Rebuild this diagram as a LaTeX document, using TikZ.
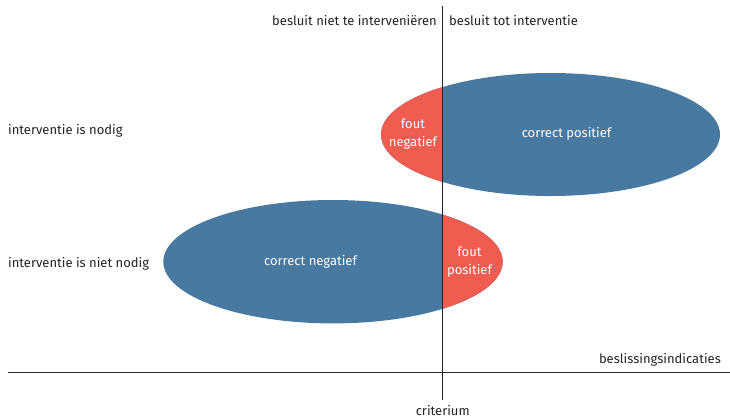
\documentclass[tikz,border=0pt]{standalone}
\usepackage{fontspec}
\setmainfont{Fira Sans}
\definecolor{cblue}{RGB}{72,121,161}
\definecolor{cred}{RGB}{240,92,80}
\definecolor{ctext}{RGB}{35,35,35}
\begin{document}
\begin{tikzpicture}[x=1pt,y=-1pt,
  lbl/.style={text=ctext,font=\fontsize{13}{15}\selectfont,inner sep=0pt},
  inl/.style={text=white,font=\fontsize{13}{17.5}\selectfont,inner sep=0pt,align=center},
  axis/.style={draw=black!85,line width=0.9pt}]
\useasboundingbox (0,0) rectangle (730,418);
% top ellipse
\fill[cblue] (550.5,134.5) ellipse [x radius=169.5, y radius=61.5];
\begin{scope}
\clip (0,0) rectangle (442.7,418);
\fill[cred] (550.5,134.5) ellipse [x radius=169.5, y radius=61.5];
\end{scope}
% bottom ellipse
\fill[cblue] (333,261.7) ellipse [x radius=169.7, y radius=61.7];
\begin{scope}
\clip (442.7,0) rectangle (730,418);
\fill[cred] (333,261.7) ellipse [x radius=169.7, y radius=61.7];
\end{scope}
% axes
\coordinate (vt) at (442.7,6);
\coordinate (vb) at (442.7,400);
\coordinate (hl) at (8,372.7);
\coordinate (hr) at (730,372.7);
\draw[axis] (vt) -- (vb);
\draw[axis] (hl) -- (hr);
% labels
\node[lbl,anchor=east] (bn) at (437,21) {besluit niet te interveniëren};
\node[lbl,anchor=west] (bt) at (449,21) {besluit tot interventie};
\node[lbl,anchor=west] (in) at (8,131) {interventie is nodig};
\node[lbl,anchor=west] (inn) at (8,264) {interventie is niet nodig};
\node[lbl,anchor=east] (bi) at (721,360) {beslissingsindicaties};
\node[lbl] (cr) at (442.7,410) {criterium};
\node[inl] (fn) at (413,134) {fout\\negatief};
\node[inl] (cp) at (566.5,134) {correct positief};
\node[inl] (cn) at (310.5,262) {correct negatief};
\node[inl] (fp) at (469.5,262) {fout\\positief};
\end{tikzpicture}
\end{document}
